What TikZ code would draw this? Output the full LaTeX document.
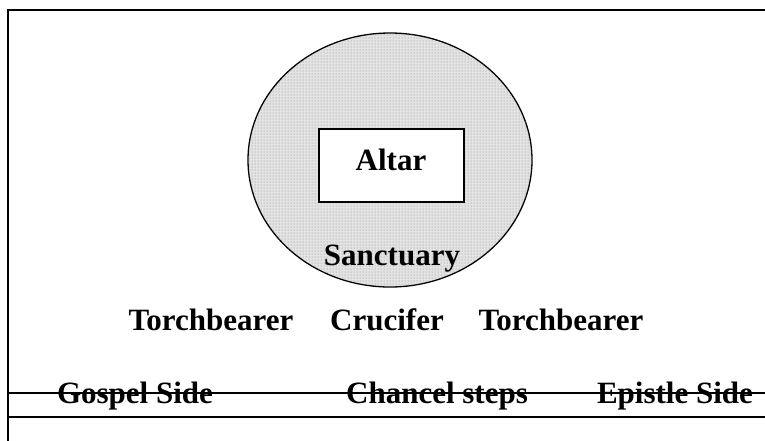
\documentclass[tikz,border=0pt]{standalone}
\usepackage{fontspec}
\setmainfont{Liberation Serif}
\usetikzlibrary{patterns,shapes.geometric}
\begin{document}
\begin{tikzpicture}[x=1pt,y=-1pt,
  lbl/.style={font=\fontsize{31}{33}\selectfont\bfseries, inner sep=0pt, anchor=base},
  frameline/.style={line width=2pt},
  thinline/.style={line width=1.2pt}]
\useasboundingbox[fill=white] (0,0) rectangle (765,440);
% frame
\coordinate (tl) at (8,10);
\coordinate (tr) at (770,10);
\coordinate (bl) at (8,445);
\draw[frameline] (bl) -- (tl) -- (tr);
\coordinate (s1) at (8,417);
\coordinate (s2) at (770,417);
\draw[frameline] (s1) -- (s2);
% sanctuary
\node[ellipse, draw, line width=1.3pt, minimum width=284pt, minimum height=254pt,
  fill=gray!22, postaction={pattern=dots, pattern color=gray!90}] (sanct) at (390,160) {};
\node[draw, line width=1.8pt, fill=white, minimum width=145pt, minimum height=73pt, inner sep=0pt] (altar) at (391.5,165.5) {};
\node[lbl] (altart) at (391,170) {Altar};
\node[lbl] (sanctt) at (392,265) {Sanctuary};
% ministers
\node[lbl] (tb1) at (211,330) {Torchbearer};
\node[lbl] (cruc) at (387,330) {Crucifer};
\node[lbl] (tb2) at (561,330) {Torchbearer};
% steps line
\coordinate (m1) at (8,393);
\coordinate (m2) at (770,393);
\node[lbl] (gospel) at (135,403) {Gospel Side};
\node[lbl] (chancel) at (437,403) {Chancel steps};
\node[lbl] (epistle) at (675,403) {Epistle Side};
\draw[thinline] (m1) -- (m2);
\end{tikzpicture}
\end{document}
